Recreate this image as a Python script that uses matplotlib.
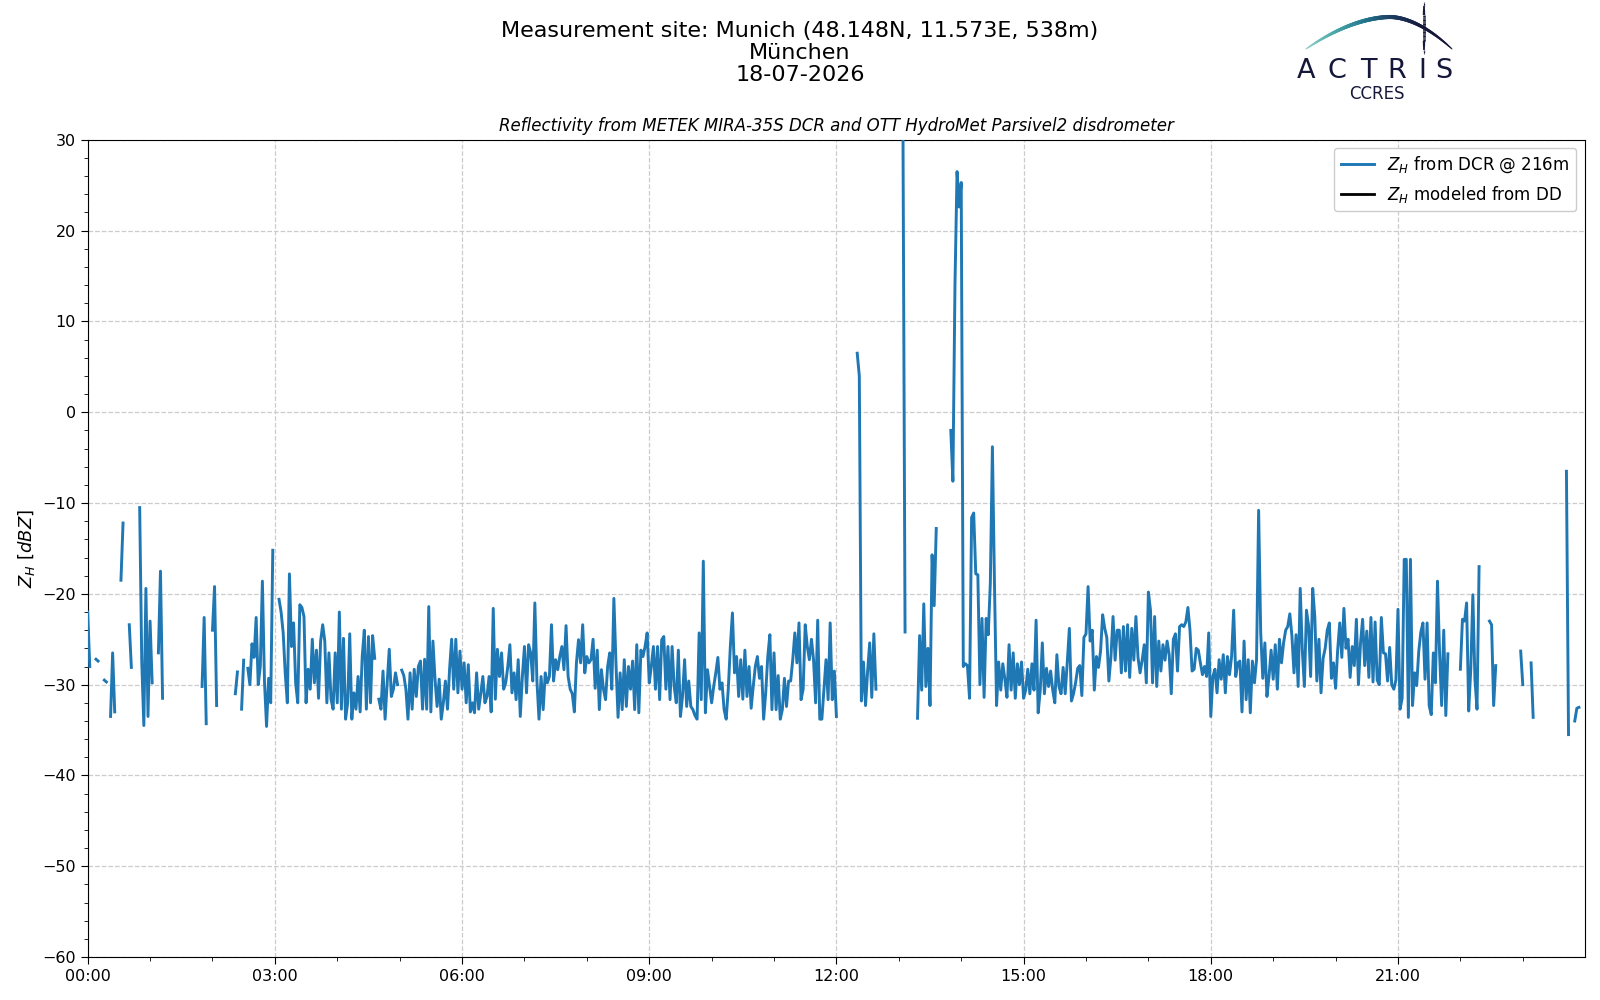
import numpy as np
import pandas as pd
import matplotlib
matplotlib.use("Agg")
import matplotlib.pyplot as plt
import matplotlib.dates as mdates
from matplotlib.ticker import MultipleLocator
from matplotlib.collections import LineCollection
from matplotlib.colors import LinearSegmentedColormap

N = np.nan

# ---------------- data ----------------
site_title = "Measurement site: Munich (48.148N, 11.573E, 538m)\nMünchen\n18-07-2026"
axes_title = "Reflectivity from METEK MIRA-35S DCR and OTT HydroMet Parsivel2 disdrometer"
day = "2026-07-18"
step_minutes = 2
legend_labels = ["$Z_H$ from DCR @ 216m", "$Z_H$ modeled from DD"]

# Z_H from the cloud radar, dBZ, one value every 2 minutes, one list per hour
zh_h00 = [-22, -28, N, N, -27.2, -27.4, N, N, -29.5, -29.7, N, -33.5, -26.5, -33, N,
          N, -18.5, -12.2, N, N, -23.4, -28.1, N, N, N, -10.5, -27.5, -34.5, -19.4, -33.5]
zh_h01 = [-23, -29.8, N, N, -26.5, -17.5, -31.5, N, N, N, N, N, N, N, N,
          N, N, N, N, N, N, N, N, N, N, -30.2, -22.6, -34.3, N, N]
zh_h02 = [-24, -19.2, -32.3, N, N, N, N, N, N, N, N, -31, -28.6, N, -32.7,
          -27.3, N, -28.2, -30, -25.5, -27, -22.6, -30, -28, -18.6, -29.6, -34.6, -29.3, -32, -15.2]
zh_h03 = [N, N, -20.6, -22, -24.3, -28.8, -32, -17.8, -25.8, -23.2, -29.8, -32, -21.2, -21.5, -22.5,
          -32, -28.3, -30.5, -25, -29.8, -26.2, -31.5, -25.2, -23.4, -25.2, -32, -26.5, -31.6, -32.7, -26.5]
zh_h04 = [-32, -22, -32.7, -24.9, -33.8, -32, -24.4, -33.8, -30.9, -32.7, -29.1, -33, -26.9, -24, -32.7,
          -24.7, -32, -24.6, -27.1, N, -31.6, -32.7, -28.5, -33.8, -29.8, -26.1, -31.3, -30.5, -28.7, -30]
zh_h05 = [N, -28.4, -29, -30.5, -33.8, -28.7, -32.7, -28.3, -31.3, -28, -27.4, -32.7, -27.2, -32.7, -21.4,
          -33, -25.2, -29.4, -32.4, -29.4, -33.8, -32, -29.6, -32.7, -28.3, -25, -30.5, -25, -30.9, -26.3]
zh_h06 = [-30.5, -27.6, -32, -27.8, -33, -32, -33.1, -28.7, -32.7, -31, -29.1, -32, -31.3, -29.1, -33,
          -21.6, -31.6, -26.1, -29.1, -26.5, -30.5, -29.8, -28, -25.6, -30.9, -28.7, -31.65, -27.25, -33.5, -29.1]
zh_h07 = [-25.8, -30.9, -25.6, -26.5, -29.6, -21.0, -29.6, -33.8, -29.1, -32.75, -28.7, -29.8, -29.1, -23.4, -29.6,
          -27.25, -28.35, -26.9, -25.8, -28.35, -23.5, -29.1, -30.5, -31, -33, -27.6, -25.05, -27.6, -23.4, -28.7]
zh_h08 = [-26.9, -27.6, -27.25, -25, -30.4, -26.2, -32.75, -28.35, -30.5, -31.65, -28, -26.5, -30.5, -20.5, -27.6,
          -33.6, -28.7, -32.75, -27.25, -32.4, -28, -30.5, -27.4, -32.75, -25.6, -33.1, -26.2, -26.9, -25.8, -24.3]
zh_h09 = [-29.8, -28, -25.8, -30.5, -25.8, -31.65, -25.05, -24.7, -30.5, -25.8, -31.65, -25.8, -30.2, -32, -26.2,
          -33.5, -31.3, -27.25, -32.4, -29.6, -32.4, -32.75, -33.4, -33.8, -24.3, -31.65, -16.4, -33.1, -28.35, -30.2]
zh_h10 = [-32, -30.2, -28.7, -27, -30.5, -29.8, -32.75, -33.8, -30.5, -25.8, -22.1, -28.7, -26.9, -31.3, -27.25,
          -31.6, -26.2, -31.3, -28, -32.6, -30.2, -28, -26.9, -29.3, -28, -33.8, -30.9, -26.9, -24.5, -32.75]
zh_h11 = [-26.5, -32.75, -29, -33.8, -32.75, -29.3, -32.4, -29.6, -29.6, -27.25, -24.3, -27.6, -23.2, -31.65, -30.5,
          -23.4, -25.8, -27.25, -25, -27.25, -32, -22.9, -33.8, -33.8, -30.5, -27.25, -31.65, -23.2, -31.65, -28.5]
zh_h12 = [-33.5, N, N, N, N, N, N, N, N, N, 6.5, 4.0, -31.8, -27.5, -32.3,
          -28.5, -25.4, -31.4, -24.4, -30.5, N, N, N, N, N, N, N, N, N, N]
zh_h13 = [N, N, 31, -24.2, N, N, N, N, N, -33.7, -24.6, -30.6, -21.1, -30.2, -26.0,
          -32.3, -15.7, -21.3, -12.8, N, N, N, N, N, N, -2.0, -7.6, 14, 26.5, 22.6]
zh_h14 = [25.3, -28, -27.7, -27.9, -31.5, -11.6, -11.1, -17.8, -17.9, -30, -22.7, -31.4, -22.7, -24.5, -18.8,
          -3.8, -19, -32.3, -27.5, -30.6, -27.7, -29.4, -31.4, -25.6, -30.6, -26.5, -31.5, -27.7, -30, -27.5]
zh_h15 = [-31.5, -30.6, -28.3, -31.0, -27.7, -30.6, -22.9, -33.1, -30.6, -25.4, -31.0, -28.2, -30.2, -28.5, -30.6,
          -32, -26.7, -30.2, -31.0, -28.1, -31.0, -27.5, -23.8, -31.8, -31.0, -29.8, -28.2, -27.9, -31.2, -24.8]
zh_h16 = [-24.4, -19.2, -25.2, -24, -30.6, -26.9, -28.1, -26.3, -22.3, -23.8, -24.8, -29.6, -26.9, -22.5, -27.3,
          -24.0, -24, -28.7, -23.6, -28.5, -23.4, -29.2, -23.8, -27.3, -22.5, -27.0, -28.7, -27.3, -25.6, -29.8]
zh_h17 = [-19.8, -21.8, -29.8, -22.5, -30.2, -25.2, -28.5, -25.6, -27.3, -25.2, -26.7, -31.0, -25.0, -24.4, -28.5,
          -23.6, -23.4, -23.6, -23.1, -21.5, -24.0, -28.5, -28.3, -26.0, -26.2, -27.6, -28.9, -28, -29.1, -24.3]
zh_h18 = [-33.5, -29.1, -28.3, -30.9, -27.25, -29.4, -26.7, -30.9, -26.9, -28.9, -26.9, -21.8, -29.1, -27.6, -27.4,
          -33, -25.2, -31.65, -27.25, -33.1, -27.4, -29.8, -27.25, -10.8, -24.3, -29.3, -25.4, -31.3, -29.1, -26.2]
zh_h19 = [-29.4, -25.6, -30.5, -25.0, -27.6, -25.4, -24, -23.6, -22.2, -24.6, -28.7, -24.5, -30.2, -19.4, -26.2,
          -30.2, -21.8, -23.5, -29.1, -19.4, -22.5, -29.6, -25, -30.9, -27.1, -26, -24, -23.2, -29.3, -27.6]
zh_h20 = [-30.4, -26.2, -23.2, -27, -21.6, -26, -25.0, -29.2, -25.8, -27.9, -22.8, -30, -25.4, -22.8, -27.9,
          -24.1, -29.2, -22.6, -29.7, -23.1, -29.5, -30, -22.6, -26.5, -26.6, -29.6, -25.9, -30, -30.5, -29.5]
zh_h21 = [-21.7, -32.7, -31.5, -16.2, -16.2, -33.6, -16.2, -32.3, -28.7, -30.1, -26.3, -24.2, -23.2, -29.4, -23.2,
          -32.3, -33.3, -26.5, -29.8, -18.6, -26.5, -32.3, -24.0, -33.4, -26.6, N, N, N, N, N]
zh_h22 = [-28.3, -22.8, -23, -21, -32.9, -28.3, -20.1, -29.4, -32.7, -17.0, N, N, N, N, -23.0,
          -23.4, -32.3, -27.9, N, N, N, N, N, N, N, N, N, N, N, -26.3]
zh_h23 = [-30, N, N, N, -27.6, -33.6, N, N, N, N, N, N, N, N, N,
          N, N, N, N, N, N, -6.5, -35.5, N, N, -34, -32.6, -32.5, N, N]

# Z_H modeled from the disdrometer: no values on this day
zh_dd = []

hourly = [zh_h00, zh_h01, zh_h02, zh_h03, zh_h04, zh_h05, zh_h06, zh_h07, zh_h08, zh_h09, zh_h10, zh_h11,
          zh_h12, zh_h13, zh_h14, zh_h15, zh_h16, zh_h17, zh_h18, zh_h19, zh_h20, zh_h21, zh_h22, zh_h23]
for i, h in enumerate(hourly):
    assert len(h) == 30, (i, len(h))
zh_dcr = np.array(sum(hourly, []), dtype=float)

t0 = pd.Timestamp(day)
times = t0 + pd.to_timedelta(np.arange(len(zh_dcr)) * step_minutes, unit="min")
times_dd = t0 + pd.to_timedelta(np.arange(len(zh_dd)) * step_minutes, unit="min")

# ---------------- figure ----------------
plt.rcParams['font.family'] = ['DejaVu Sans']
fig = plt.figure(figsize=(16, 10), dpi=100)
ax = fig.add_axes([0.0548, 0.0429, 0.9904 - 0.0548, 0.8602 - 0.0429])

ax.plot(times, zh_dcr, color="#1f77b4", lw=2.1, label=legend_labels[0], zorder=3)
ax.plot(times_dd, zh_dd, color="black", lw=2.0, label=legend_labels[1], zorder=4)

ax.set_xlim(t0, t0 + pd.Timedelta(hours=23, minutes=59, seconds=30))
ax.set_ylim(-60, 30)
ax.xaxis.set_major_locator(mdates.HourLocator(byhour=range(0, 24, 3)))
ax.xaxis.set_minor_locator(mdates.HourLocator())
ax.xaxis.set_major_formatter(mdates.DateFormatter("%H:%M"))
ax.yaxis.set_major_locator(MultipleLocator(10))
ax.yaxis.set_minor_locator(MultipleLocator(2))
ax.tick_params(axis="both", which="major", labelsize=11.5, length=5)
ax.tick_params(axis="both", which="minor", length=3)
ax.grid(True, which="major", linestyle="--", color="#cccccc", linewidth=0.9)
ax.set_axisbelow(True)

ax.set_ylabel("$Z_H$ [$dBZ$]", fontsize=13)
ax.set_title(axes_title, fontsize=12, style="italic", pad=6)
leg = ax.legend(loc="upper right", fontsize=12, framealpha=1.0, handlelength=2.0)

fig.text(0.5, 0.979, site_title, ha="center", va="top", fontsize=16, linespacing=1.14)

# ---------------- ACTRIS CCRES logo ----------------
W, H = 1600, 1000
lax = fig.add_axes([0, 0, 1, 1], zorder=5)
lax.set_xlim(0, W)
lax.set_ylim(H, 0)
lax.axis("off")
lax.patch.set_alpha(0)

xs = np.linspace(1306, 1452, 160)
peak_x, peak_y = 1390.0, 17.0
half_w = np.where(xs < peak_x, peak_x - 1306, 1452 - peak_x)
ys = peak_y + 32.0 * (np.abs(xs - peak_x) / half_w) ** 1.8
pts = np.column_stack([xs, ys]).reshape(-1, 1, 2)
segs = np.concatenate([pts[:-1], pts[1:]], axis=1)
cmap = LinearSegmentedColormap.from_list(
    "actris", ["#8fd0c9", "#4aa8ab", "#247a90", "#1c3c62", "#16183a", "#16183a"])
frac = np.linspace(0, 1, len(segs))
lw = 0.7 + 2.3 * np.sin(np.pi * frac) ** 0.7
lax.add_collection(LineCollection(segs, colors=cmap(frac), linewidths=lw, capstyle="round"))

vy = np.linspace(2, 54, 40)
vpts = np.column_stack([np.full_like(vy, 1423.5), vy]).reshape(-1, 1, 2)
vsegs = np.concatenate([vpts[:-1], vpts[1:]], axis=1)
vf = np.linspace(0, 1, len(vsegs))
lax.add_collection(LineCollection(vsegs, colors="#16183a",
                                  linewidths=0.5 + 1.6 * np.sin(np.pi * vf) ** 0.6))

logo_letters = ["A", "C", "T", "R", "I", "S"]
letter_x = [1306, 1337, 1368, 1397, 1422, 1444]
for ch, lx in zip(logo_letters, letter_x):
    lax.text(lx, 78.5, ch, ha="center", va="baseline", fontsize=19.5, color="#16183a",
             family="DejaVu Sans")
lax.text(1377, 99, "CCRES", ha="center", va="baseline", fontsize=12, color="#16183a",
         family="DejaVu Sans")

fig.savefig("out.png", dpi=100)
